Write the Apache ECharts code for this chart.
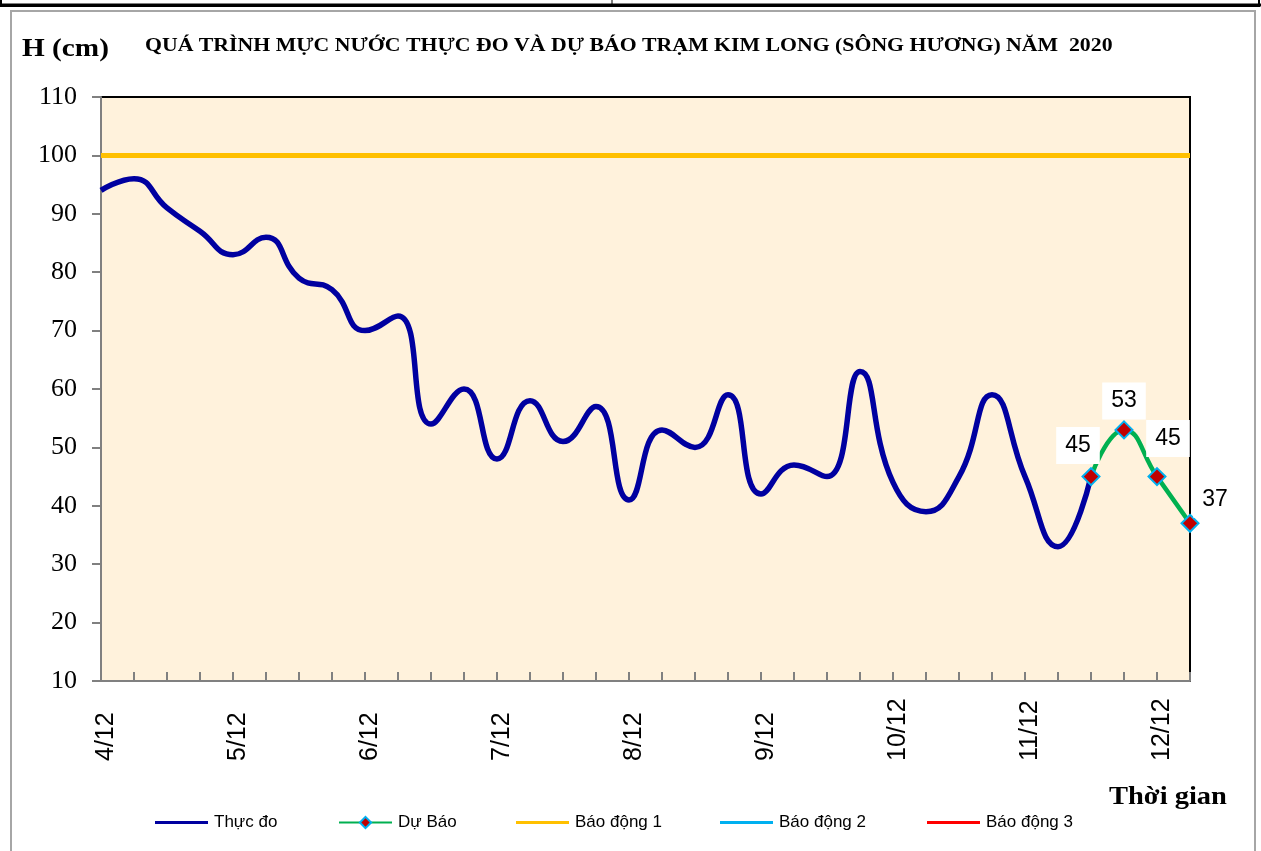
<!DOCTYPE html>
<html>
<head>
<meta charset="utf-8">
<script src="https://cdn.jsdelivr.net/npm/echarts@6/dist/echarts.min.js"></script>
<style>
  html, body { margin: 0; padding: 0; background: #fff; }
  #chart { width: 1261px; height: 851px; }
</style>
</head>
<body>
<div id="chart"></div>
<script>
// 6-hourly points, 4/12 00h .. 12/12 06h
const days = ['4/12', '5/12', '6/12', '7/12', '8/12', '9/12', '10/12', '11/12', '12/12'];
const hours = ['00h', '06h', '12h', '18h'];
const times = [];
days.forEach(d => hours.forEach(h => times.push(d + ' ' + h)));
times.length = 34;

const observed = [94, 96, 91, 87, 83, 86, 79, 77, 70, 72.5,
    54, 60, 48, 58, 51, 57, 41, 53, 50, 59,
    42, 47, 45, 63, 44, 39, 45, 59, 45, 33, 45];
const forecast = [45, 53, 45, 37];
const forecastStart = 30;
const alarm1 = 100;

const forecastData = times.map((t, i) => {
    const v = forecast[i - forecastStart];
    return v === undefined ? null : v;
});
const labelOffsets = [[-13, 2], [0, 4], [11, -5], [25, 9]];

const legendNames = ['Thực đo', 'Dự Báo', 'Báo động 1', 'Báo động 2', 'Báo động 3'];
const legendLeft = [155, 338, 516, 720, 927];

const chart = echarts.init(document.getElementById('chart'));

const serif = '"Liberation Serif", "Times New Roman", serif';
const sans = '"Liberation Sans", Arial, sans-serif';

const option = {
    backgroundColor: '#fff',
    animation: false,
    graphic: [
        { type: 'rect', shape: { x: 11, y: 11, width: 1244, height: 850 },
          style: { fill: 'none', stroke: '#a6a6a6', lineWidth: 2 } },
        { type: 'rect', shape: { x: 1, y: -10, width: 1258, height: 16 },
          style: { fill: 'none', stroke: '#000', lineWidth: 2 } },
        { type: 'line', shape: { x1: 0, y1: 5, x2: 1261, y2: 5 },
          style: { stroke: '#000', lineWidth: 3 } },
        { type: 'line', shape: { x1: 612, y1: 0, x2: 612, y2: 6 },
          style: { stroke: '#000', lineWidth: 1 } },
        { type: 'text', x: 22, y: 37, scaleX: 1.17,
          style: { text: 'H (cm)', font: 'bold 25px ' + serif, fill: '#000' } },
        { type: 'text', x: 145, y: 37, scaleX: 1.21,
          style: { text: 'QUÁ TRÌNH MỰC NƯỚC THỰC ĐO VÀ DỰ BÁO TRẠM KIM LONG (SÔNG HƯƠNG) NĂM  2020',
                   font: 'bold 18px ' + serif, fill: '#000' } },
        { type: 'text', x: 1109, y: 785, scaleX: 1.14,
          style: { text: 'Thời gian', font: 'bold 25px ' + serif, fill: '#000' } }
    ],
    legend: legendNames.map((name, i) => ({
        left: legendLeft[i],
        top: 814,
        padding: 0,
        itemWidth: 53,
        itemHeight: i === 1 ? 14 : 3,
        icon: i === 1 ? undefined : 'rect',
        textStyle: { fontFamily: sans, fontSize: 17, color: '#000', padding: [0, 0, 0, 1] },
        data: [name]
    })),
    grid: {
        left: 101, right: 71, top: 97, bottom: 170,
        show: true,
        backgroundColor: '#fff2dc',
        borderColor: '#000',
        borderWidth: 2
    },
    xAxis: {
        type: 'category',
        data: times,
        boundaryGap: false,
        axisLine: { lineStyle: { color: '#808080', width: 2 } },
        axisTick: { inside: true, length: 9, interval: 0, lineStyle: { color: '#808080', width: 2 } },
        axisLabel: {
            interval: 3,
            rotate: 90,
            align: 'left',
            verticalAlign: 'middle',
            margin: 80,
            color: '#000',
            formatter: v => '{d|' + v.split(' ')[0] + '}',
            rich: {
                d: { fontFamily: sans, fontSize: 25, color: '#000', padding: [10, 0, 0, 0] }
            }
        },
        splitLine: { show: false }
    },
    yAxis: {
        type: 'value',
        min: 10,
        max: 110,
        interval: 10,
        axisLine: { show: true, lineStyle: { color: '#808080', width: 2 } },
        axisTick: { show: true, length: 9, lineStyle: { color: '#808080', width: 2 } },
        axisLabel: {
            margin: 24,
            fontFamily: serif,
            fontSize: 26,
            color: '#000'
        },
        splitLine: { show: false }
    },
    series: [
        {
            name: 'Thực đo',
            type: 'line',
            data: observed,
            smooth: 0.5,
            showSymbol: false,
            symbol: 'none',
            lineStyle: { color: '#0000a0', width: 5.5 },
            itemStyle: { color: '#0000a0' },
            z: 3
        },
        {
            name: 'Dự Báo',
            type: 'line',
            data: forecastData,
            smooth: 0.5,
            symbol: 'diamond',
            symbolSize: 17,
            showAllSymbol: true,
            lineStyle: { color: '#00b050', width: 4.5 },
            itemStyle: { color: '#c00000', borderColor: '#00b0f0', borderWidth: 2 },
            label: {
                show: true,
                position: 'top',
                fontFamily: sans,
                fontSize: 23,
                color: '#000',
                backgroundColor: '#fff',
                padding: [7, 9]
            },
            labelLayout: function (p) {
                const o = labelOffsets[p.dataIndex - forecastStart] || [0, 0];
                return { dx: o[0], dy: o[1] };
            },
            z: 4
        },
        {
            name: 'Báo động 1',
            type: 'line',
            data: times.map(() => alarm1),
            symbol: 'none',
            lineStyle: { color: '#ffc000', width: 5 },
            itemStyle: { color: '#ffc000' },
            z: 2
        },
        {
            name: 'Báo động 2',
            type: 'line',
            data: [],
            symbol: 'none',
            lineStyle: { color: '#00b0f0', width: 3 },
            itemStyle: { color: '#00b0f0' }
        },
        {
            name: 'Báo động 3',
            type: 'line',
            data: [],
            symbol: 'none',
            lineStyle: { color: '#ff0000', width: 3 },
            itemStyle: { color: '#ff0000' }
        }
    ]
};

chart.setOption(option);
</script>
</body>
</html>
